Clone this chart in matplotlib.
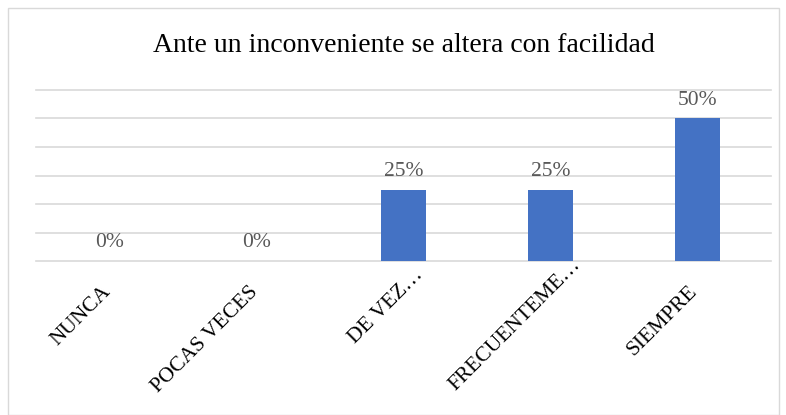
import matplotlib.pyplot as plt
import matplotlib.transforms as mtransforms
from matplotlib.patches import Rectangle

# Datos del gráfico
categorias = ["NUNCA", "POCAS VECES", "DE VEZ…", "FRECUENTEME…", "SIEMPRE"]
valores = [0.0, 0.0, 0.25, 0.25, 0.50]
titulo = "Ante un inconveniente se altera con facilidad"

plt.rcParams['font.family'] = ['Liberation Serif', 'DejaVu Serif']

fig = plt.figure(figsize=(7.86, 4.15), dpi=100)
ax = fig.add_axes([36 / 786, 1 - 261 / 415, (771 - 36) / 786, (261 - 90) / 415])

# Marco exterior
fig.patches.append(Rectangle((8 / 786, 0), 771 / 786, 407 / 415, transform=fig.transFigure,
                             fill=False, edgecolor='#D9D9D9', linewidth=1))

x = range(len(categorias))
ax.bar(x, valores, width=0.31, color='#4472C4', zorder=3)

for i, v in zip(x, valores):
    ax.text(i, v + 0.03, f"{v:.0%}", ha='center', va='bottom', fontsize=15.5, color='#595959')

ax.set_xlim(-0.5, len(categorias) - 0.5)
ax.set_ylim(0, 0.6)
ax.set_yticks([0, 0.1, 0.2, 0.3, 0.4, 0.5, 0.6])
ax.yaxis.grid(True, color='#D9D9D9', linewidth=1.2, zorder=0)
for gl in ax.get_ygridlines():
    gl.set_clip_on(False)
ax.tick_params(axis='y', left=False, labelleft=False)
ax.tick_params(axis='x', length=0, pad=8)
ax.set_xticks(list(x))
ax.set_xticklabels(categorias, rotation=45, ha='right', rotation_mode='anchor', fontsize=15.5)

# desplazamiento de cada etiqueta (px), las recortadas quedan más arriba como en Excel
offs = [(-8, -10), (-8, -10), (10, 7), (21, 17), (-10, -10)]
for lbl, (dx, dy) in zip(ax.get_xticklabels(), offs):
    t = mtransforms.ScaledTranslation(dx / 100, dy / 100, fig.dpi_scale_trans)
    lbl.set_transform(lbl.get_transform() + t)

for s in ax.spines.values():
    s.set_visible(False)

fig.text(404 / 786, 1 - 45 / 415, titulo, ha='center', va='center', fontsize=20)

fig.savefig('out.png', dpi=100)
